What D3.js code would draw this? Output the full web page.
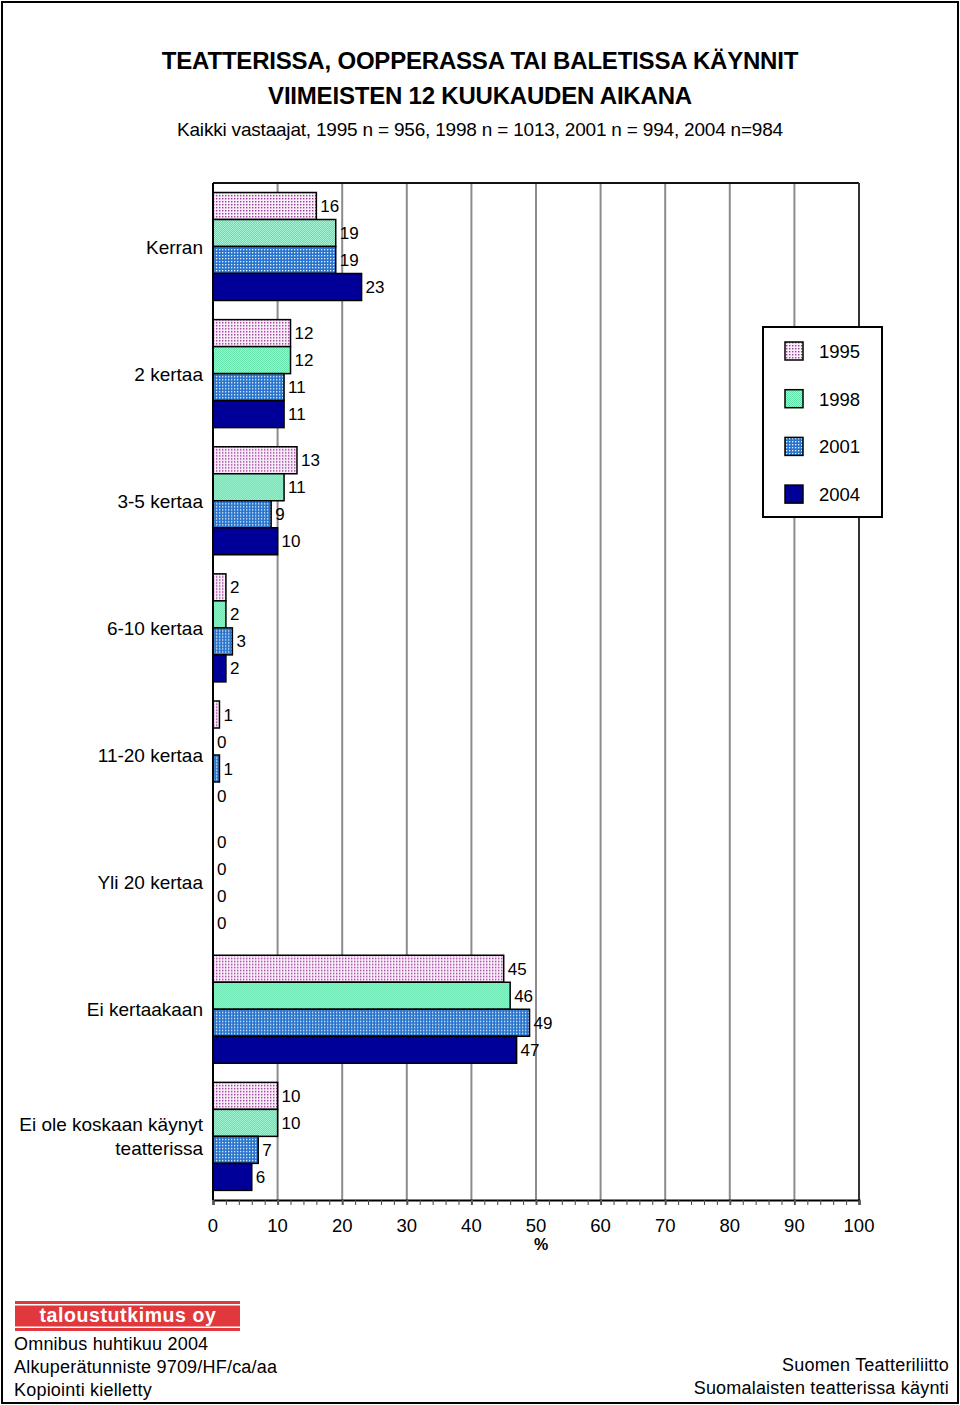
<!DOCTYPE html>
<html><head><meta charset="utf-8">
<script src="https://cdn.jsdelivr.net/npm/d3@7"></script>
<style>body{margin:0;background:#fff}svg{display:block;font-family:"Liberation Sans",Arial,sans-serif}</style>
</head><body><svg id="c" width="960" height="1405"></svg>
<script>
const categories = ["Kerran","2 kertaa","3-5 kertaa","6-10 kertaa","11-20 kertaa","Yli 20 kertaa","Ei kertaakaan","Ei ole koskaan käynyt|teatterissa"];
const years = ["1995","1998","2001","2004"];
const v1995 = [16,12,13,2,1,0,45,10];
const v1998 = [19,12,11,2,0,0,46,10];
const v2001 = [19,11,9,3,1,0,49,7];
const v2004 = [23,11,10,2,0,0,47,6];
const series = [v1995,v1998,v2001,v2004];
const xTicks = [0,10,20,30,40,50,60,70,80,90,100];

const svg = d3.select("#c");
const defs = svg.append("defs");
// patterns
const p1 = defs.append("pattern").attr("id","p0").attr("width",3).attr("height",3).attr("patternUnits","userSpaceOnUse");
p1.append("rect").attr("width",3).attr("height",3).attr("fill","#fbeefb");
p1.append("rect").attr("width",1.4).attr("height",1.4).attr("fill","#9a3a9a");
const p2 = defs.append("pattern").attr("id","p1").attr("width",2).attr("height",2).attr("patternUnits","userSpaceOnUse");
p2.append("rect").attr("width",2).attr("height",2).attr("fill","#a6f4d6");
p2.append("rect").attr("width",1).attr("height",1).attr("fill","#5ee2a8");
p2.append("rect").attr("x",1).attr("y",1).attr("width",1).attr("height",1).attr("fill","#5ee2a8");
const p3 = defs.append("pattern").attr("id","p2").attr("width",3).attr("height",3).attr("patternUnits","userSpaceOnUse");
p3.append("rect").attr("width",3).attr("height",3).attr("fill","#2a74cc");
p3.append("rect").attr("width",1.3).attr("height",1.3).attr("fill","#e8f4ff");
const fills = ["url(#p0)","url(#p1)","url(#p2)","#000099"];

// outer frame
svg.append("rect").attr("x",2).attr("y",2).attr("width",956).attr("height",1401).attr("fill","none").attr("stroke","#000").attr("stroke-width",2);

// titles
svg.append("text").attr("x",480).attr("y",69).attr("text-anchor","middle").attr("font-size",24).attr("font-weight","bold").attr("letter-spacing",-0.2).text("TEATTERISSA, OOPPERASSA TAI BALETISSA KÄYNNIT");
svg.append("text").attr("x",480).attr("y",104).attr("text-anchor","middle").attr("font-size",24).attr("font-weight","bold").attr("letter-spacing",-0.2).text("VIIMEISTEN 12 KUUKAUDEN AIKANA");
svg.append("text").attr("x",480).attr("y",136).attr("text-anchor","middle").attr("font-size",19).attr("letter-spacing",-0.2).text("Kaikki vastaajat, 1995 n = 956, 1998 n = 1013, 2001 n = 994, 2004 n=984");

const L=213,R=859,T=183,B=1200;
const x = d3.scaleLinear().domain([0,100]).range([L,R]);
const y = d3.scaleBand().domain(categories).range([T,B]);
const inner = d3.scaleBand().domain(years).range([9.5,9.5+108]);

// gridlines
svg.append("g").selectAll("line").data(xTicks.slice(1,-1)).join("line")
 .attr("x1",d=>x(d)).attr("x2",d=>x(d)).attr("y1",T).attr("y2",B)
 .attr("stroke","#8c8c8c").attr("stroke-width",2);

// bars
categories.forEach((c,ci)=>{
  const g = svg.append("g").attr("transform",`translate(0,${y(c)})`);
  series.forEach((s,si)=>{
    const v = s[ci];
    if(v>0) g.append("rect").attr("x",x(0)).attr("y",inner(years[si])).attr("width",x(v)-x(0)).attr("height",inner.bandwidth())
      .attr("fill",fills[si]).attr("stroke","#000").attr("stroke-width",1.5);
    g.append("text").attr("x",x(v)+4).attr("y",inner(years[si])+inner.bandwidth()/2+6).attr("font-size",17).text(v);
  });
  const lines = c.split("|");
  const cy = y(c)+y.bandwidth()/2;
  lines.forEach((ln,li)=>{
    svg.append("text").attr("x",203).attr("y",cy+7+(li-(lines.length-1)/2)*24).attr("text-anchor","end").attr("font-size",19).text(ln);
  });
});

// frame lines
svg.append("line").attr("x1",L).attr("x2",R).attr("y1",T).attr("y2",T).attr("stroke","#111").attr("stroke-width",2);
svg.append("line").attr("x1",R).attr("x2",R).attr("y1",T).attr("y2",B).attr("stroke","#333").attr("stroke-width",2);
svg.append("line").attr("x1",L).attr("x2",L).attr("y1",T).attr("y2",B).attr("stroke","#000").attr("stroke-width",2);

// x axis
const ax = svg.append("g").attr("transform",`translate(0,${B})`);
ax.call(d3.axisBottom(x).tickValues(d3.range(0,101,2)).tickSize(5).tickFormat(""));
ax.select(".domain").attr("stroke","#000").attr("stroke-width",2);
ax.selectAll(".tick line").attr("stroke","#444").attr("stroke-width",1);
ax.selectAll(".tick").filter(d=>d%10===0).select("line").attr("stroke-width",2).attr("stroke","#555");
svg.append("g").selectAll("text").data(xTicks).join("text").attr("x",d=>x(d)).attr("y",1232).attr("text-anchor","middle").attr("font-size",18.5).text(d=>d);
svg.append("text").attr("x",x(50)+5).attr("y",1250).attr("text-anchor","middle").attr("font-size",16).attr("font-weight","bold").text("%");

// legend
svg.append("rect").attr("x",763).attr("y",327).attr("width",119).attr("height",190).attr("fill","#fff").attr("stroke","#000").attr("stroke-width",2);
years.forEach((yr,i)=>{
  const yy = 351+i*47.7;
  svg.append("rect").attr("x",785).attr("y",yy-9).attr("width",18).attr("height",18).attr("fill",fills[i]).attr("stroke","#000").attr("stroke-width",1.5);
  svg.append("text").attr("x",819).attr("y",yy+7).attr("font-size",18.5).text(yr);
});

// logo
svg.append("rect").attr("x",15).attr("y",1301).attr("width",225).attr("height",30).attr("fill","#e0383c");
svg.append("rect").attr("x",15).attr("y",1304).attr("width",225).attr("height",1.5).attr("fill","#fff");
svg.append("rect").attr("x",15).attr("y",1326.5).attr("width",225).attr("height",1.5).attr("fill","#fff");
svg.append("text").attr("x",128).attr("y",1322).attr("text-anchor","middle").attr("font-size",19.5).attr("font-weight","bold").attr("letter-spacing",0.6).attr("fill","#fff").text("taloustutkimus oy");

// footer
const fl = ["Omnibus huhtikuu 2004","Alkuperätunniste 9709/HF/ca/aa","Kopiointi kielletty"];
fl.forEach((t,i)=>svg.append("text").attr("x",14).attr("y",1350+i*23).attr("font-size",18).attr("letter-spacing",0.2).text(t));
svg.append("text").attr("x",949).attr("y",1371).attr("text-anchor","end").attr("font-size",18).attr("letter-spacing",0.2).text("Suomen Teatteriliitto");
svg.append("text").attr("x",949).attr("y",1394).attr("text-anchor","end").attr("font-size",18).attr("letter-spacing",0.2).text("Suomalaisten teatterissa käynti");
</script></body></html>
